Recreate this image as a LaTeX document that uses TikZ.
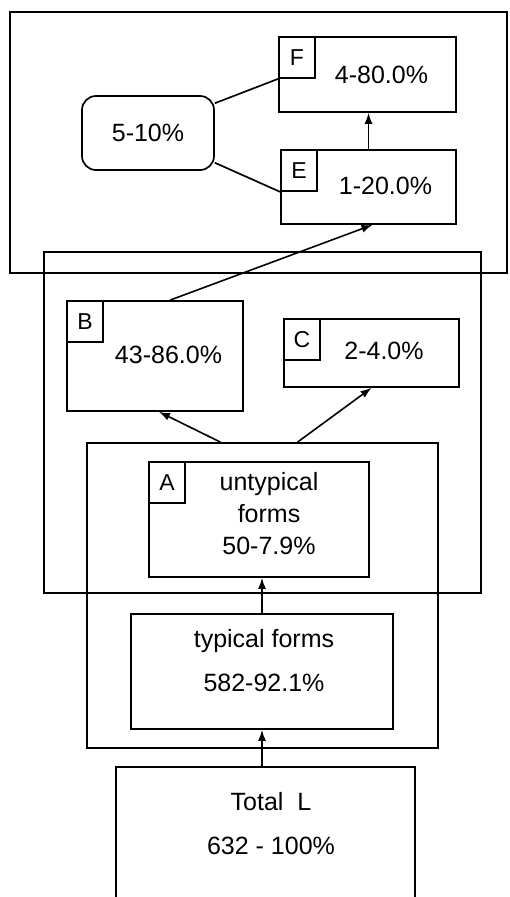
\documentclass[tikz,border=0pt]{standalone}
\usepackage{fontspec}
\setmainfont{Liberation Sans}
\usetikzlibrary{arrows.meta}
\begin{document}
\begin{tikzpicture}[x=1pt, y=-1pt, line width=1.7pt,
	every node/.style={font=\fontsize{25}{32}\selectfont, align=center, inner sep=0pt},
	box/.style={draw},
	tag/.style={draw, font=\fontsize{23}{26}\selectfont, minimum width=36, minimum height=41, anchor=north west},
	arr/.style={-{Latex[length=11pt, width=8pt]}, line width=1.6pt}]
	\useasboundingbox (0,0) rectangle (510,897);
	\node[box, minimum width=497, minimum height=261] (top) at (258.5,142.5) {};
	\node[box, minimum width=437, minimum height=341] (mid) at (262.5,422.5) {};
	\node[box, minimum width=351, minimum height=305] (Aframe) at (262.5,595.5) {};
	\node[box, rounded corners=14pt, minimum width=132, minimum height=74] (round) at (148,133) {5-10\%};
	\node[box, minimum width=177, minimum height=75] (F) at (367.5,74.5) {};
	\node[box, minimum width=175, minimum height=74] (E) at (368.5,187) {};
	\node[box, minimum width=176, minimum height=110] (B) at (155,356) {};
	\node[box, minimum width=175, minimum height=68] (C) at (371.5,353) {};
	\node[box, minimum width=220, minimum height=115] (A) at (259,519.5) {};
	\node[box, minimum width=262, minimum height=115] (typ) at (262,671.5) {};
	\node[box, minimum width=299, minimum height=133] (Total) at (265.5,833.5) {};
	\node[tag] (Fl) at (F.north west) {F};
	\node[tag] (El) at (E.north west) {E};
	\node[tag] (Bl) at (B.north west) {B};
	\node[tag] (Cl) at (C.north west) {C};
	\node[tag] (Al) at (A.north west) {A};
	\node (Ftxt) at (381.5,75) {4-80.0\%};
	\node (Etxt) at (385.5,186) {1-20.0\%};
	\node (Btxt) at (168.5,355) {43-86.0\%};
	\node (Ctxt) at (384,351) {2-4.0\%};
	\node (Atxt) at (269,513.5) {untypical\\forms\\50-7.9\%};
	\node (typtxt) at (264,660.5) {typical forms\\[12pt]582-92.1\%};
	\node (Totaltxt) at (271,823.5) {Total\ \ L\\[12pt]632 - 100\%};
	\draw (round.24) -- (Fl.south west);
	\draw (round.-24) -- (El.south west);
	\draw[arr] (E.north) -- (E.north |- F.south);
	\draw[arr] ([xshift=15]B.north) -- ([xshift=4]E.south);
	\draw[arr] ([xshift=-42]Aframe.north) -- ([xshift=4]B.south);
	\draw[arr] ([xshift=35]Aframe.north) -- (C.south);
	\draw[arr] (typ.north) -- (typ.north |- A.south);
	\draw[arr] (typ.south |- Total.north) -- (typ.south);
\end{tikzpicture}
\end{document}
